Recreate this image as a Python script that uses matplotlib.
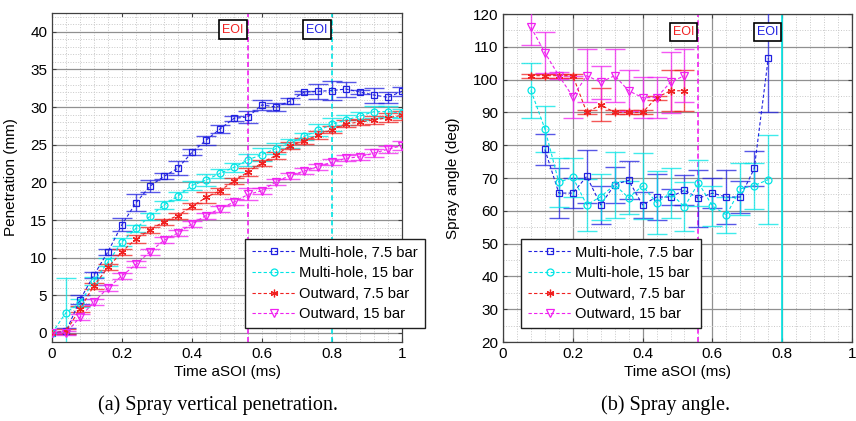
import numpy as np
import matplotlib
matplotlib.use("Agg")
import matplotlib.pyplot as plt

plt.rcParams.update({"font.family": ["Liberation Sans", "DejaVu Sans"], "font.size": 10.5})

# ---------------- data: (a) penetration ----------------
t_pen = [0.00, 0.04, 0.08, 0.12, 0.16, 0.20, 0.24, 0.28, 0.32, 0.36, 0.40, 0.44, 0.48,
         0.52, 0.56, 0.60, 0.64, 0.68, 0.72, 0.76, 0.80, 0.84, 0.88, 0.92, 0.96, 1.00]
pen_mh75 = [0.0, 0.2, 4.4, 7.7, 10.8, 14.4, 17.3, 19.5, 20.8, 21.9, 24.0, 25.6, 27.1,
            28.5, 28.7, 30.3, 30.0, 30.8, 32.0, 32.1, 32.2, 32.4, 32.0, 31.6, 31.3, 32.1]
err_mh75 = [0.0, 0.4, 0.6, 0.4, 0.4, 0.9, 1.1, 0.8, 0.4, 0.9, 0.4, 0.6, 0.5,
            0.3, 0.8, 0.7, 0.5, 0.4, 0.2, 1.0, 1.3, 1.0, 0.3, 1.0, 0.7, 0.6]
pen_mh15 = [0.0, 2.7, 4.0, 6.9, 9.4, 12.1, 13.9, 15.5, 17.0, 18.2, 19.6, 20.3, 21.2,
            22.0, 23.0, 23.7, 24.5, 25.2, 26.1, 26.9, 27.7, 28.3, 28.8, 29.4, 29.4, 29.2]
err_mh15 = [0.0, 4.6, 0.5, 0.5, 0.5, 0.5, 0.5, 0.5, 0.5, 0.5, 0.6, 0.8, 0.6,
            0.6, 0.8, 0.9, 0.7, 0.6, 0.5, 0.8, 0.9, 0.7, 0.5, 0.8, 0.7, 0.6]
pen_ow75 = [0.0, 0.2, 3.2, 6.3, 8.7, 10.8, 12.5, 13.7, 14.8, 15.6, 16.8, 18.0, 18.9,
            20.2, 21.4, 22.6, 23.6, 24.9, 25.5, 26.3, 27.0, 27.8, 28.0, 28.3, 28.6, 28.9]
err_ow75 = [0.0, 0.3, 0.4, 0.4, 0.4, 0.4, 0.5, 0.4, 0.4, 0.4, 0.4, 0.7, 0.4,
            0.4, 0.5, 0.4, 0.5, 0.4, 0.4, 0.5, 0.5, 0.5, 0.4, 0.5, 0.6, 0.6]
pen_ow15 = [0.0, 0.0, 2.1, 4.1, 6.0, 7.6, 9.1, 10.8, 12.3, 13.3, 14.5, 15.6, 16.5,
            17.4, 18.4, 18.9, 20.1, 20.9, 21.5, 22.1, 22.7, 23.2, 23.4, 23.9, 24.4, 24.9]
err_ow15 = [0.0, 0.3, 0.4, 0.4, 0.4, 0.4, 0.4, 0.4, 0.4, 0.4, 0.4, 0.4, 0.4,
            0.4, 0.8, 0.4, 0.4, 0.4, 0.4, 0.4, 0.4, 0.4, 0.4, 0.5, 0.5, 0.6]

# ---------------- data: (b) spray angle ----------------
t_mh75 = [0.12, 0.16, 0.20, 0.24, 0.28, 0.32, 0.36, 0.40, 0.44, 0.48, 0.52, 0.56, 0.60,
          0.64, 0.68, 0.72, 0.76]
ang_mh75 = [78.7, 65.4, 65.4, 70.5, 61.8, 68.0, 69.3, 61.8, 64.2, 64.2, 66.3, 63.8, 65.4,
            64.2, 64.2, 72.9, 106.5]
aerr_mh75 = [4.6, 7.6, 4.5, 8.0, 5.8, 5.5, 5.8, 4.0, 7.0, 2.5, 4.5, 8.7, 4.5,
             8.2, 5.0, 5.2, 16.5]
t_mh15 = [0.08, 0.12, 0.16, 0.20, 0.24, 0.28, 0.32, 0.36, 0.40, 0.44, 0.48, 0.52, 0.56,
          0.60, 0.64, 0.68, 0.72, 0.76]
ang_mh15 = [96.7, 85.0, 68.7, 70.2, 61.8, 64.3, 67.9, 64.0, 67.6, 62.5, 65.4, 61.2, 68.5,
            61.5, 58.7, 66.7, 67.7, 69.5]
aerr_mh15 = [8.3, 7.0, 7.5, 6.0, 8.0, 7.0, 10.0, 5.0, 10.0, 9.5, 7.5, 7.5, 7.0,
             6.0, 5.5, 8.0, 7.0, 13.5]
t_ow = [0.08, 0.12, 0.16, 0.20, 0.24, 0.28, 0.32, 0.36, 0.40, 0.44, 0.48, 0.52]
ang_ow75 = [101.2, 101.2, 101.2, 101.2, 90.0, 92.3, 90.0, 90.0, 90.0, 94.5, 96.6, 96.6]
aerr_ow75 = [0.6, 0.6, 0.6, 0.6, 0.6, 5.0, 0.6, 0.6, 0.6, 0.6, 6.3, 6.2]
ang_ow15 = [116.0, 108.2, 101.2, 94.8, 101.2, 99.2, 101.2, 96.6, 94.5, 94.5, 99.2, 101.2]
aerr_ow15 = [5.4, 6.3, 1.0, 6.4, 8.0, 5.0, 8.0, 6.2, 6.2, 6.2, 9.3, 8.0]

labels = ["Multi-hole, 7.5 bar", "Multi-hole, 15 bar", "Outward, 7.5 bar", "Outward, 15 bar"]
colors = ["#2020e0", "#00e5e5", "#f02020", "#f020f0"]
markers = ["s", "o", (6, 2, 0), "v"]
msizes = [4.5, 5, 5.5, 5.5]
eoi_times = [0.56, 0.80]


def series(ax, t, v, e, i):
    ax.errorbar(t, v, yerr=e, fmt="none", ecolor=colors[i], alpha=0.75,
                elinewidth=1.0, capsize=7, capthick=1.0, zorder=3)
    ax.plot(t, v, ls=(0, (3, 2)), lw=0.8, color=colors[i], marker=markers[i],
            ms=msizes[i], mfc="none", mec=colors[i], mew=0.9, label=labels[i], zorder=4)


def style(ax):
    ax.set_xlim(0, 1)
    ax.set_xticks([0, 0.2, 0.4, 0.6, 0.8, 1.0])
    ax.set_xticklabels(["0", "0.2", "0.4", "0.6", "0.8", "1"])
    ax.set_xticks(np.arange(0, 1.001, 0.04), minor=True)
    ax.tick_params(which="major", direction="in", top=True, right=True, length=3,
                   color="#404040", labelsize=11)
    ax.tick_params(which="minor", length=0)
    for s in ax.spines.values():
        s.set_color("#404040")
        s.set_linewidth(0.9)
    ax.set_axisbelow(True)


def add_legend(ax, x0):
    leg = ax.legend(loc="upper left", bbox_to_anchor=(x0 / 856, 1 - 239 / 421),
                    bbox_transform=fig.transFigure, fancybox=False, edgecolor="#202020",
                    framealpha=1, fontsize=10.6, handlelength=3.0, labelspacing=0.45,
                    borderpad=0.45, handletextpad=0.25, borderaxespad=0)
    leg.get_frame().set_linewidth(1.0)


fig = plt.figure(figsize=(8.56, 4.21), dpi=100)

# (a)
ax1 = fig.add_axes([52 / 856, 1 - 342 / 421, 350 / 856, 329 / 421])
for i, (v, e) in enumerate([(pen_mh75, err_mh75), (pen_mh15, err_mh15),
                            (pen_ow75, err_ow75), (pen_ow15, err_ow15)]):
    series(ax1, t_pen, v, e, i)
style(ax1)
ax1.set_ylim(-1.2, 42.5)
ax1.set_yticks(np.arange(0, 41, 5))
ax1.set_yticks(np.arange(0, 43, 1), minor=True)
ax1.yaxis.grid(True, which="major", color="#909090", lw=0.9, ls="-")
ax1.yaxis.grid(True, which="minor", color="#c8c8c8", lw=0.7, ls=":")
ax1.xaxis.grid(True, which="both", color="#c8c8c8", lw=0.7, ls=":")
ax1.axvline(eoi_times[0], color="#f020f0", ls=(0, (3, 2)), lw=1.2, zorder=2)
ax1.axvline(eoi_times[1], color="#00e5e5", ls=(0, (3, 2)), lw=1.2, zorder=2)
ax1.set_xlabel("Time aSOI (ms)", fontsize=11)
ax1.set_ylabel("Penetration (mm)", fontsize=11)
ax1.xaxis.set_label_coords(0.5, -0.07)
ax1.yaxis.set_label_coords(-0.097, 0.5)
add_legend(ax1, 245)

# (b)
ax2 = fig.add_axes([503 / 856, 1 - 342 / 421, 349 / 856, 328 / 421])
series(ax2, t_mh75, ang_mh75, aerr_mh75, 0)
series(ax2, t_mh15, ang_mh15, aerr_mh15, 1)
series(ax2, t_ow, ang_ow75, aerr_ow75, 2)
series(ax2, t_ow, ang_ow15, aerr_ow15, 3)
style(ax2)
ax2.set_ylim(20, 120)
ax2.set_yticks(np.arange(20, 121, 10))
ax2.set_yticks(np.arange(20, 121, 5), minor=True)
ax2.grid(True, which="major", color="#909090", lw=0.9, ls="-")
ax2.grid(True, which="minor", color="#c8c8c8", lw=0.7, ls=":")
ax2.axvline(eoi_times[0], color="#f020f0", ls=(0, (3, 2)), lw=1.2, zorder=2)
ax2.axvline(eoi_times[1], color="#00e5e5", ls="-", lw=1.2, zorder=2)
ax2.set_xlabel("Time aSOI (ms)", fontsize=11)
ax2.set_ylabel("Spray angle (deg)", fontsize=11)
ax2.xaxis.set_label_coords(0.5, -0.07)
ax2.yaxis.set_label_coords(-0.122, 0.5)
add_legend(ax2, 521)

# EOI labels
box = dict(boxstyle="square,pad=0.25", fc="white", ec="black", lw=1.2)
for ax, y in [(ax1, 40.3), (ax2, 114.6)]:
    ax.annotate("EOI", xy=(eoi_times[0], y), xytext=(-3, 0), textcoords="offset points",
                ha="right", va="center", color="#f02020", fontsize=9, bbox=box, zorder=6)
    ax.annotate("EOI", xy=(eoi_times[1], y), xytext=(-3, 0), textcoords="offset points",
                ha="right", va="center", color="#2020e0", fontsize=9, bbox=box, zorder=6)

fig.text(218 / 856, 1 - 405 / 421, "(a) Spray vertical penetration.", ha="center",
         va="center", fontsize=14.5, family="Liberation Serif")
fig.text(666 / 856, 1 - 405 / 421, "(b) Spray angle.", ha="center",
         va="center", fontsize=14.5, family="Liberation Serif")

fig.savefig("out.png", dpi=100)
